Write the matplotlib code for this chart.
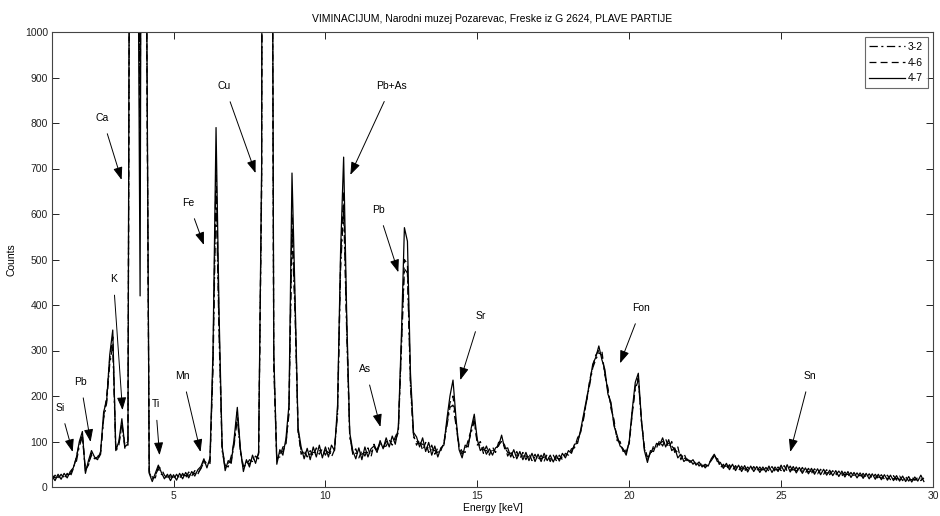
import numpy as np
import matplotlib
matplotlib.use("Agg")
import matplotlib.pyplot as plt

plt.rcParams['font.family'] = ['Liberation Sans', 'DejaVu Sans']
plt.rcParams['lines.scale_dashes'] = False

# Energy channels (keV), 0.1 keV step starting at 1.0 keV
energy_kev = np.round(np.arange(1.0, 29.75, 0.1), 2)

series_names = ['3-2', '4-6', '4-7']

counts_3_2 = [
    26, 20, 22, 25, 22, 27, 28, 44, 55, 90,
    110, 35, 52, 70, 64, 60, 72, 150, 185, 270,
    310, 78, 92, 135, 85, 92, 2300, 3800, 1800, 800,
    2800, 1200, 32, 18, 26, 40, 28, 24, 22, 22,
    22, 24, 22, 26, 25, 26, 28, 30, 31, 40,
    55, 48, 56, 260, 650, 330, 80, 42, 52, 58,
    95, 150, 78, 40, 55, 50, 64, 58, 72, 650,
    4500, 5500, 2300, 260, 58, 74, 78, 96, 160, 560,
    380, 120, 80, 74, 72, 72, 76, 76, 80, 76,
    80, 76, 78, 84, 160, 480, 610, 340, 110, 76,
    74, 74, 72, 76, 76, 76, 86, 82, 98, 86,
    100, 96, 102, 102, 120, 300, 480, 470, 220, 110,
    100, 96, 94, 88, 86, 82, 80, 76, 84, 94,
    135, 175, 180, 135, 86, 72, 84, 96, 120, 145,
    98, 90, 82, 80, 76, 80, 82, 92, 100, 88,
    76, 74, 72, 70, 70, 68, 68, 66, 66, 64,
    64, 62, 66, 64, 62, 62, 64, 62, 66, 68,
    74, 78, 92, 100, 122, 150, 190, 225, 262, 280,
    295, 290, 250, 210, 180, 140, 108, 94, 82, 76,
    98, 165, 215, 235, 148, 84, 60, 75, 84, 92,
    96, 100, 96, 96, 90, 82, 76, 68, 64, 60,
    58, 54, 52, 50, 48, 46, 48, 60, 70, 60,
    48, 46, 46, 44, 42, 42, 42, 40, 40, 38,
    40, 40, 38, 38, 38, 38, 40, 38, 38, 38,
    42, 40, 42, 38, 38, 36, 37, 35, 36, 34,
    35, 33, 34, 32, 33, 31, 31, 30, 30, 28,
    29, 27, 28, 26, 26, 25, 25, 24, 24, 22,
    23, 22, 22, 20, 21, 19, 20, 18, 19, 17,
    18, 17, 17, 16, 16, 16, 18, 15,
]

counts_4_6 = [
    16, 26, 18, 28, 19, 30, 22, 40, 65, 95,
    115, 38, 48, 74, 62, 66, 78, 155, 200, 280,
    330, 85, 95, 140, 92, 100, 2400, 4000, 1700, 680,
    3000, 1250, 35, 22, 20, 44, 40, 26, 18, 28,
    16, 28, 18, 30, 20, 33, 24, 36, 28, 42,
    58, 52, 50, 280, 710, 350, 85, 48, 44, 68,
    100, 165, 80, 46, 48, 60, 56, 68, 62, 680,
    4800, 5800, 2400, 280, 64, 66, 88, 92, 170, 600,
    400, 125, 72, 82, 66, 80, 68, 86, 72, 84,
    70, 86, 66, 82, 170, 500, 650, 360, 115, 72,
    84, 64, 80, 68, 86, 66, 94, 78, 96, 88,
    90, 104, 92, 110, 125, 310, 500, 490, 230, 115,
    92, 104, 80, 98, 76, 92, 72, 86, 80, 98,
    140, 185, 200, 140, 92, 78, 76, 104, 125, 150,
    92, 100, 74, 90, 70, 88, 76, 98, 102, 92,
    68, 80, 64, 78, 62, 76, 60, 74, 58, 72,
    58, 70, 57, 72, 56, 70, 58, 70, 60, 74,
    70, 84, 86, 108, 120, 155, 190, 235, 265, 290,
    300, 300, 245, 218, 172, 148, 102, 100, 78, 82,
    95, 160, 220, 240, 145, 88, 66, 70, 90, 86,
    102, 90, 106, 86, 100, 76, 88, 60, 74, 58,
    60, 50, 58, 46, 54, 42, 50, 58, 68, 64,
    42, 50, 39, 49, 37, 47, 36, 46, 35, 44,
    36, 45, 35, 44, 34, 43, 35, 45, 34, 44,
    36, 47, 35, 46, 33, 44, 32, 43, 31, 41,
    30, 40, 29, 39, 28, 38, 27, 36, 26, 35,
    24, 33, 23, 32, 22, 31, 21, 30, 20, 29,
    19, 28, 18, 27, 17, 26, 16, 25, 15, 24,
    14, 23, 13, 22, 15, 21, 14, 20,
]

counts_4_7 = [
    24, 14, 28, 17, 30, 20, 34, 42, 64, 100,
    122, 30, 58, 80, 66, 60, 78, 165, 190, 290,
    345, 80, 100, 150, 88, 95, 2600, 4200, 1600, 420,
    3200, 1300, 30, 12, 30, 48, 32, 18, 28, 14,
    27, 15, 30, 18, 32, 20, 34, 24, 38, 45,
    62, 42, 64, 300, 790, 380, 90, 36, 58, 52,
    110, 175, 85, 34, 60, 44, 70, 52, 76, 700,
    5000, 6000, 2500, 300, 50, 82, 70, 106, 180, 690,
    420, 130, 88, 62, 85, 60, 88, 66, 92, 64,
    88, 66, 92, 80, 180, 520, 725, 380, 120, 80,
    62, 86, 60, 88, 66, 84, 90, 76, 102, 84,
    108, 88, 112, 94, 130, 330, 570, 540, 250, 120,
    110, 88, 108, 78, 98, 70, 90, 66, 86, 92,
    150, 200, 235, 150, 82, 64, 92, 88, 130, 160,
    104, 80, 88, 72, 84, 70, 86, 90, 114, 84,
    86, 66, 82, 62, 78, 60, 76, 58, 74, 56,
    72, 56, 74, 58, 70, 55, 70, 57, 74, 64,
    80, 74, 94, 96, 125, 160, 195, 230, 270, 285,
    310, 280, 258, 204, 186, 134, 114, 90, 84, 70,
    100, 170, 230, 250, 150, 80, 54, 80, 78, 96,
    92, 108, 88, 104, 80, 86, 64, 72, 56, 62,
    54, 60, 48, 55, 44, 50, 46, 62, 72, 56,
    54, 41, 52, 38, 50, 36, 48, 34, 47, 33,
    46, 34, 45, 32, 44, 33, 46, 32, 44, 34,
    48, 34, 49, 33, 45, 31, 43, 30, 42, 29,
    41, 28, 40, 27, 39, 26, 37, 25, 36, 23,
    35, 22, 34, 21, 32, 20, 31, 19, 30, 18,
    29, 17, 28, 16, 27, 15, 26, 14, 25, 13,
    24, 12, 23, 11, 22, 13, 26, 12,
]

# Peak annotations: label, arrow tip (keV, counts), text position (keV, counts)
ann_labels = ['Si', 'Pb', 'K', 'Ca', 'Ti', 'Mn', 'Fe', 'Cu', 'Pb+As',
              'As', 'Pb', 'Sr', 'Fon', 'Sn']
ann_tip_x = [1.68, 2.27, 3.32, 3.29, 4.54, 5.89, 6.00, 7.70, 10.82,
             11.81, 12.40, 14.44, 19.70, 25.30]
ann_tip_y = [77, 99, 169, 675, 70, 77, 532, 690, 686,
             132, 472, 235, 272, 77]
ann_text_x = [1.28, 1.94, 3.02, 2.66, 4.41, 5.30, 5.50, 6.68, 12.17,
              11.32, 11.74, 15.10, 20.40, 25.95]
ann_text_y = [174, 231, 457, 811, 182, 244, 624, 881, 881,
              259, 609, 376, 393, 244]

title = 'VIMINACIJUM, Narodni muzej Pozarevac, Freske iz G 2624, PLAVE PARTIJE'

fig = plt.figure(figsize=(9.4, 5.16), dpi=100)
ax = fig.add_axes([52 / 940, 29 / 516, 881 / 940, 455 / 516])

styles = [dict(linestyle=(0, (6, 2.5, 1.5, 2.5))),
          dict(linestyle=(0, (5, 3))),
          dict(linestyle='-')]
for name, vals, st in zip(series_names, [counts_3_2, counts_4_6, counts_4_7], styles):
    ax.plot(energy_kev, vals, color='black', lw=0.9, label=name, **st)

ax.set_xlim(1.0, 30)
ax.set_ylim(0, 1000)
ax.set_xticks([5, 10, 15, 20, 25, 30])
ax.set_yticks(np.arange(0, 1001, 100))
ax.tick_params(direction='in', top=True, right=True, length=5, width=0.7,
               labelsize=7.5, colors='#222222', pad=3)
for sp in ax.spines.values():
    sp.set_color('#444444')
    sp.set_linewidth(0.8)

ax.set_title(title, fontsize=7.5, pad=7)
ax.set_xlabel('Energy [keV]', fontsize=7.5, labelpad=1)
ax.set_ylabel('Counts', fontsize=7.5, labelpad=6)

for lab, tx, ty, sx, sy in zip(ann_labels, ann_tip_x, ann_tip_y, ann_text_x, ann_text_y):
    ax.annotate(lab, xy=(tx, ty), xytext=(sx, sy), fontsize=7.5,
                ha='center', va='center',
                arrowprops=dict(arrowstyle='-|>,head_length=0.55,head_width=0.2',
                                color='black', lw=0.7,
                                mutation_scale=14, shrinkA=6, shrinkB=0))

leg = ax.legend(loc='upper right', fontsize=7.5, frameon=True, fancybox=False,
                handlelength=3.4, handletextpad=0.3, borderpad=0.45,
                labelspacing=0.55, borderaxespad=0.5)
leg.get_frame().set_edgecolor('#444444')
leg.get_frame().set_linewidth(0.8)

fig.savefig('out.png', dpi=100)
